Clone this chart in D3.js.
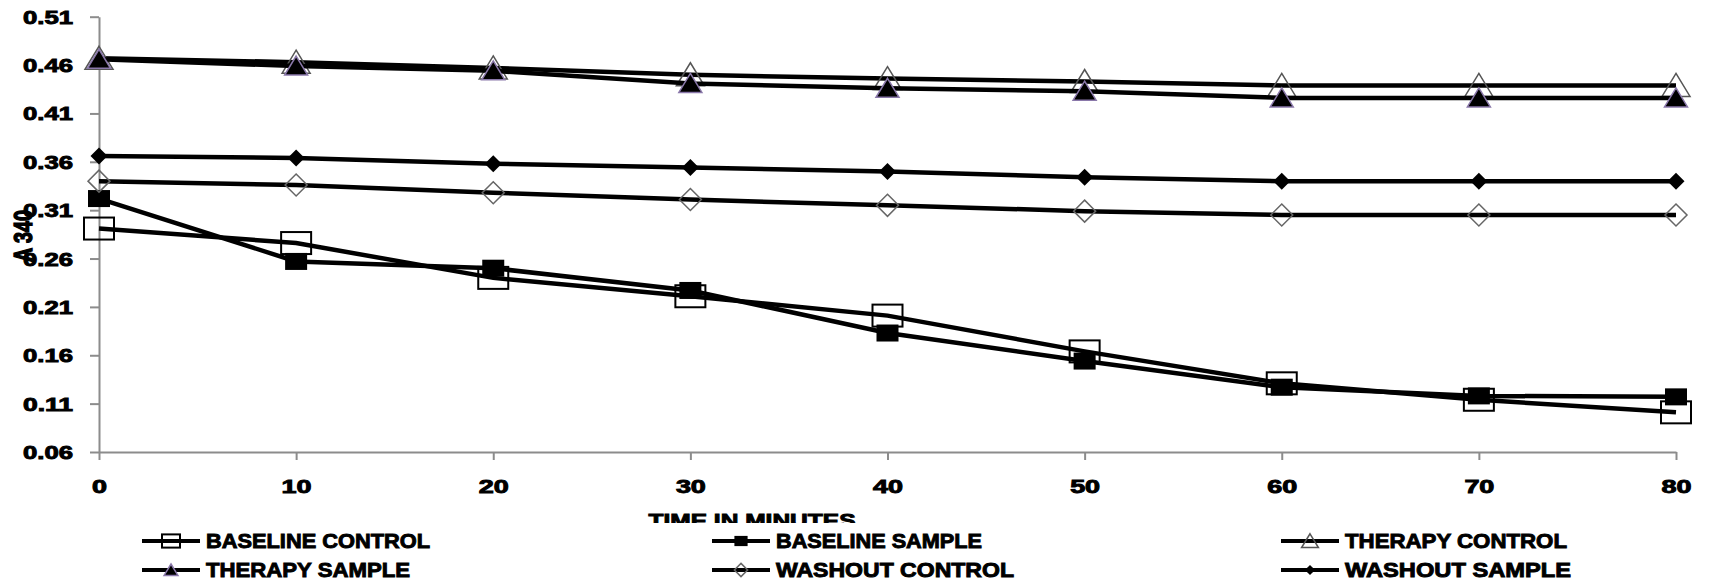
<!DOCTYPE html>
<html><head><meta charset="utf-8">
<script src="https://cdn.jsdelivr.net/npm/d3@7"></script>
<style>
body{margin:0;background:#fff;}
svg{display:block;}
text{font-family:"Liberation Sans",Arial,sans-serif;font-weight:bold;fill:#000;stroke:#000;stroke-width:0.9px;}
</style>
</head><body>
<svg id="c" width="1710" height="582"></svg>
<script>
const times = [0, 10, 20, 30, 40, 50, 60, 70, 80];
const baselineControl = [0.291, 0.276, 0.240, 0.221, 0.201, 0.164, 0.131, 0.114, 0.101];
const baselineSample  = [0.322, 0.257, 0.250, 0.227, 0.183, 0.154, 0.127, 0.118, 0.117];
const therapyControl  = [0.467, 0.463, 0.457, 0.450, 0.446, 0.443, 0.439, 0.439, 0.439];
const therapySample   = [0.466, 0.459, 0.454, 0.441, 0.436, 0.433, 0.426, 0.426, 0.426];
const washoutControl  = [0.340, 0.336, 0.328, 0.321, 0.315, 0.309, 0.305, 0.305, 0.305];
const washoutSample   = [0.366, 0.364, 0.358, 0.354, 0.350, 0.344, 0.340, 0.340, 0.340];
const seriesNames = ["BASELINE CONTROL", "BASELINE SAMPLE", "THERAPY CONTROL", "THERAPY SAMPLE", "WASHOUT CONTROL", "WASHOUT SAMPLE"];
const yTicks = [0.06, 0.11, 0.16, 0.21, 0.26, 0.31, 0.36, 0.41, 0.46, 0.51];
const xTicks = [0, 10, 20, 30, 40, 50, 60, 70, 80];
const xTitle = "TIME IN MINUTES";
const yTitle = "A 340";

const seriesValues = [baselineControl, baselineSample, therapyControl, therapySample, washoutControl, washoutSample];
const markerTypes = ["squareOpen", "squareFilled", "triOpen", "triFilled", "diaOpen", "diaFilled"];
const legendWidths = [224, 206, 222, 204, 238, 226];

const svg = d3.select("#c");
const x = d3.scaleLinear().domain([0, 80]).range([99, 1676]);
const y = d3.scaleLinear().domain([0.06, 0.51]).range([452, 16.7]);

const fontFam = "'Liberation Sans',Arial,sans-serif";

// Y axis
const gy = svg.append("g").attr("transform", "translate(99,0)")
  .call(d3.axisLeft(y).tickValues(yTicks).tickSize(9).tickSizeOuter(0).tickPadding(17).tickFormat(d3.format(".2f")));
gy.select(".domain").attr("stroke", "#8c8c8c").attr("stroke-width", 2);
gy.selectAll(".tick line").attr("stroke", "#8c8c8c").attr("stroke-width", 2);
gy.selectAll(".tick text").attr("font-size", 18).attr("dy", "0.36em")
  .attr("textLength", 50).attr("lengthAdjust", "spacingAndGlyphs")
  .style("font-family", fontFam).style("font-weight", "bold").style("stroke", "#000").style("stroke-width", "0.9px");

// X axis
const gx = svg.append("g").attr("transform", "translate(0,452)")
  .call(d3.axisBottom(x).tickValues(xTicks).tickSize(8).tickSizeOuter(0).tickFormat(d3.format("d")));
gx.select(".domain").attr("stroke", "#8c8c8c").attr("stroke-width", 2);
gx.selectAll(".tick line").attr("stroke", "#8c8c8c").attr("stroke-width", 2);
gx.selectAll(".tick text").attr("font-size", 18).attr("y", 35).attr("dy", "0.36em")
  .attr("textLength", d => String(d).length * 15).attr("lengthAdjust", "spacingAndGlyphs")
  .style("font-family", fontFam).style("font-weight", "bold").style("stroke", "#000").style("stroke-width", "0.9px");

// Y title
svg.append("text").attr("transform", "translate(23,236) rotate(-90)")
  .attr("text-anchor", "middle").attr("dy", "0.36em").attr("font-size", 25)
  .style("stroke-width", "1.4px")
  .attr("textLength", 52).attr("lengthAdjust", "spacingAndGlyphs").text(yTitle);

// Marker drawing
function drawMarker(g, type, cx, cy, s) {
  const w = (a) => a * s;
  if (type === "squareOpen") {
    g.append("rect").attr("x", cx - w(15)).attr("y", cy - w(11)).attr("width", w(30)).attr("height", w(22))
      .attr("fill", "none").attr("stroke", "#000").attr("stroke-width", 2);
  } else if (type === "squareFilled") {
    g.append("rect").attr("x", cx - w(11)).attr("y", cy - w(8.5)).attr("width", w(22)).attr("height", w(17))
      .attr("fill", "#000");
  } else if (type === "triOpen") {
    g.append("path").attr("d", `M${cx},${cy - w(12)}L${cx + w(14)},${cy + w(11)}L${cx - w(14)},${cy + w(11)}Z`)
      .attr("fill", "none").attr("stroke", "#555").attr("stroke-width", 1.5);
  } else if (type === "triFilled") {
    g.append("path").attr("d", `M${cx},${cy - w(10)}L${cx + w(11.5)},${cy + w(9)}L${cx - w(11.5)},${cy + w(9)}Z`)
      .attr("fill", "#000").attr("stroke", "#8a78aa").attr("stroke-width", 1.5);
  } else if (type === "diaOpen") {
    g.append("path").attr("d", `M${cx},${cy - w(11)}L${cx + w(11)},${cy}L${cx},${cy + w(11)}L${cx - w(11)},${cy}Z`)
      .attr("fill", "none").attr("stroke", "#666").attr("stroke-width", 1.5);
  } else if (type === "diaFilled") {
    g.append("path").attr("d", `M${cx},${cy - w(8.5)}L${cx + w(8.5)},${cy}L${cx},${cy + w(8.5)}L${cx - w(8.5)},${cy}Z`)
      .attr("fill", "#000");
  }
}

const line = d3.line().x((d, i) => x(times[i])).y(d => y(d));
const plot = svg.append("g");
seriesValues.forEach((vals, si) => {
  const g = plot.append("g");
  g.append("path").attr("d", line(vals)).attr("fill", "none").attr("stroke", "#000").attr("stroke-width", 4.5);
  vals.forEach((v, i) => drawMarker(g, markerTypes[si], x(times[i]), y(v), 1));
});

// X title (partly hidden by legend box)
svg.append("text").attr("x", 752).attr("y", 521).attr("text-anchor", "middle").attr("dy", "0.36em")
  .attr("font-size", 18).attr("textLength", 207).attr("lengthAdjust", "spacingAndGlyphs").text(xTitle);

// Legend
const lg = svg.append("g");
lg.append("rect").attr("x", 120).attr("y", 523).attr("width", 1480).attr("height", 59).attr("fill", "#fff");
const colX = [142, 712, 1281];
const rowY = [541, 570];
seriesNames.forEach((name, i) => {
  const cx0 = colX[i % 3], cy0 = rowY[Math.floor(i / 3)];
  const g = lg.append("g");
  g.append("line").attr("x1", cx0).attr("x2", cx0 + 58).attr("y1", cy0).attr("y2", cy0)
    .attr("stroke", "#000").attr("stroke-width", 4);
  drawMarker(g, markerTypes[i], cx0 + 29, cy0, 0.6);
  g.append("text").attr("x", cx0 + 64).attr("y", cy0).attr("dy", "0.36em").attr("font-size", 20)
    .attr("textLength", legendWidths[i]).attr("lengthAdjust", "spacingAndGlyphs").text(name);
});
</script>
</body></html>
